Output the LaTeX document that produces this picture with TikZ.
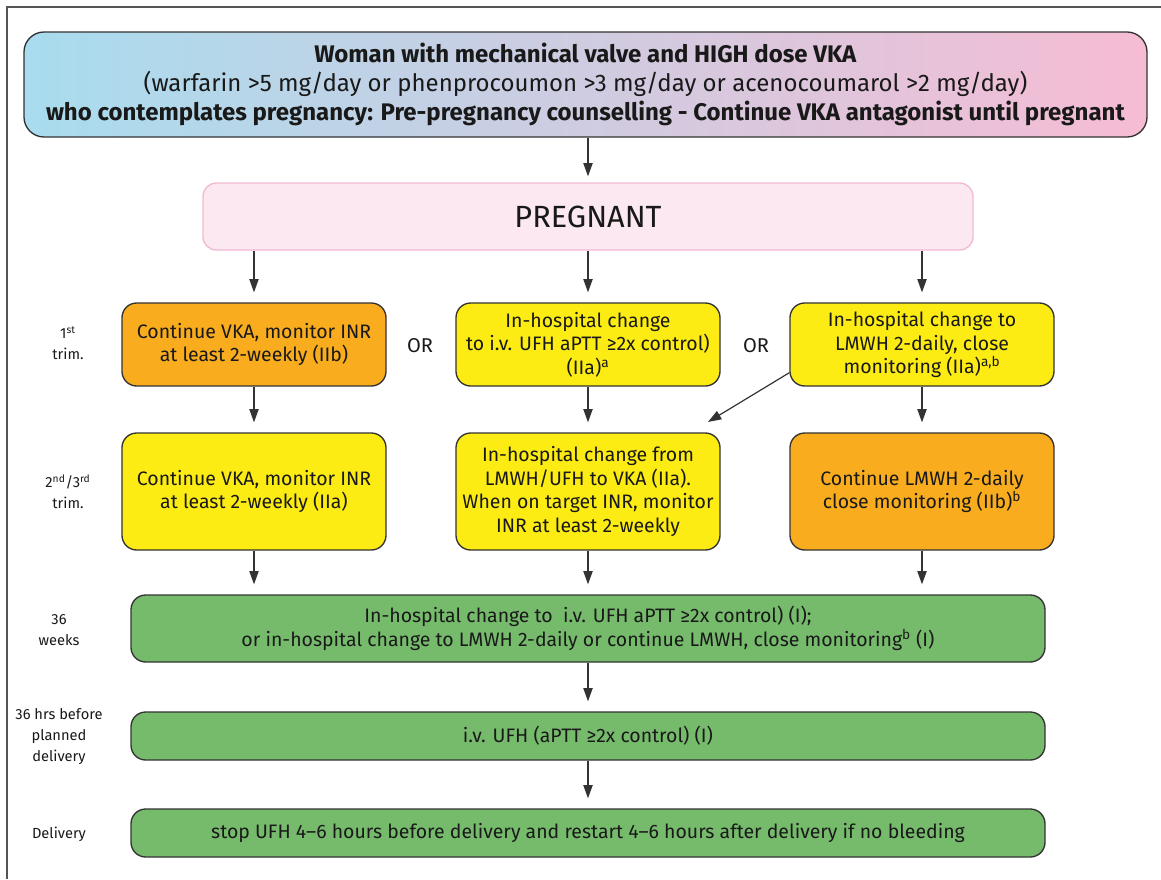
\documentclass[tikz,border=0pt]{standalone}
\usepackage{fontspec}
\setmainfont{Fira Sans}
\usetikzlibrary{arrows.meta}
\definecolor{boxline}{HTML}{333333}
\definecolor{framecol}{HTML}{555555}
\definecolor{orng}{HTML}{F8AC1E}
\definecolor{yell}{HTML}{FCEC14}
\definecolor{grn}{HTML}{76BB6C}
\definecolor{pinkfill}{HTML}{FBE8F1}
\definecolor{pinkline}{HTML}{F2BAD2}
\definecolor{gradl}{HTML}{A8DCEE}
\definecolor{gradr}{HTML}{F6BCD4}
\begin{document}
\begin{tikzpicture}[x=0.75pt,y=-0.75pt,
  box/.style={draw=boxline, line width=1pt, rounded corners=11pt, align=center, inner sep=0pt,
    font=\fontsize{14.6}{17.6}\selectfont, text=black!90},
  rowbox/.style={box, minimum width=198pt, minimum height=62.25pt},
  rowboxb/.style={box, minimum width=198pt, minimum height=87.75pt},
  grnbox/.style={box, fill=grn, minimum width=685.5pt},
  arr/.style={draw=boxline, line width=0.9pt, -{Triangle[length=10pt,width=7pt]}, shorten >=7.5pt},
  lbl/.style={align=center, font=\fontsize{11}{15.75}\selectfont, text=black!90},
  ortxt/.style={font=\fontsize{15}{18}\selectfont, text=black!90}]
\useasboundingbox (0,0) rectangle (1161,879);
\draw[framecol, line width=1.2pt] (7,879) -- (7,7) -- (1161,7);
% top box
\node[box, rounded corners=15pt, left color=gradl, right color=gradr,
  minimum width=842.25pt, minimum height=78.75pt,
  font=\fontsize{18}{21.75}\selectfont] (top) at (585.5,84.5)
  {\textbf{Woman with mechanical valve and HIGH dose VKA}\\
   (warfarin >5 mg/day or phenprocoumon >3 mg/day or acenocoumarol >2 mg/day)\\
   \textbf{who contemplates pregnancy: Pre-pregnancy counselling - Continue VKA antagonist until pregnant}};
% pregnant
\node[box, draw=pinkline, fill=pinkfill, rounded corners=10pt, minimum width=577.5pt, minimum height=50.25pt,
  font=\fontsize{23}{26}\selectfont] (preg) at (588,216.5) {PREGNANT};
% row 1
\node[rowbox, fill=orng] (r1a) at (254,344.5) {Continue VKA, monitor INR\\at least 2-weekly (IIb)};
\node[rowbox, fill=yell] (r1b) at (588,344.5) {In-hospital change\\to i.v. UFH aPTT ≥2x control)\\(IIa)\textsuperscript{a}};
\node[rowbox, fill=yell] (r1c) at (922,344.5) {In-hospital change to\\LMWH 2-daily, close\\monitoring (IIa)\textsuperscript{a,b}};
% row 2
\node[rowboxb, fill=yell] (r2a) at (254,491.5) {Continue VKA, monitor INR\\at least 2-weekly (IIa)};
\node[rowboxb, fill=yell] (r2b) at (588,491.5) {In-hospital change from\\LMWH/UFH to VKA (IIa).\\When on target INR, monitor\\INR at least 2-weekly};
\node[rowboxb, fill=orng] (r2c) at (922,491.5) {Continue LMWH 2-daily\\close monitoring (IIb)\textsuperscript{b}};
% green boxes
\node[grnbox, minimum height=50.25pt] (g1) at (588,628.5) {In-hospital change to\ \ i.v. UFH aPTT ≥2x control) (I);\\or in-hospital change to LMWH 2-daily or continue LMWH, close monitoring\textsuperscript{b} (I)};
\node[grnbox, minimum height=36pt] (g2) at (588,736) {i.v. UFH (aPTT ≥2x control) (I)};
\node[grnbox, minimum height=36pt] (g3) at (588,833) {stop UFH 4–6 hours before delivery and restart 4–6 hours after delivery if no bleeding};
% OR
\node[ortxt] (or1) at (420,346) {OR};
\node[ortxt] (or2) at (756,346) {OR};
% left labels
\node[lbl] (l1) at (68,343) {1\textsuperscript{st}\\trim.};
\node[lbl] (l2) at (68,492) {2\textsuperscript{nd}/3\textsuperscript{rd}\\trim.};
\node[lbl] (l3) at (59,630) {36\\weeks};
\node[lbl] (l4) at (59,737) {36 hrs before\\planned\\delivery};
\node[lbl] (l5) at (59,834) {Delivery};
% arrows
\draw[arr, shorten >=4.5pt] (top.south -| preg.north) -- (preg.north);
\draw[arr] (preg.south -| r1a.north) -- (r1a.north);
\draw[arr] (preg.south -| r1b.north) -- (r1b.north);
\draw[arr] (preg.south -| r1c.north) -- (r1c.north);
\draw[arr] (r1a.south) -- (r2a.north);
\draw[arr] (r1b.south) -- (r2b.north);
\draw[arr] (r1c.south) -- (r2c.north);
\coordinate (dg) at (708,422);
\draw[arr, shorten >=0pt] (r1c.192) -- (dg);
\draw[arr] (r2a.south) -- (r2a.south |- g1.north);
\draw[arr] (r2b.south) -- (r2b.south |- g1.north);
\draw[arr] (r2c.south) -- (r2c.south |- g1.north);
\draw[arr] (g1.south) -- (g2.north);
\draw[arr] (g2.south) -- (g3.north);
\end{tikzpicture}
\end{document}
